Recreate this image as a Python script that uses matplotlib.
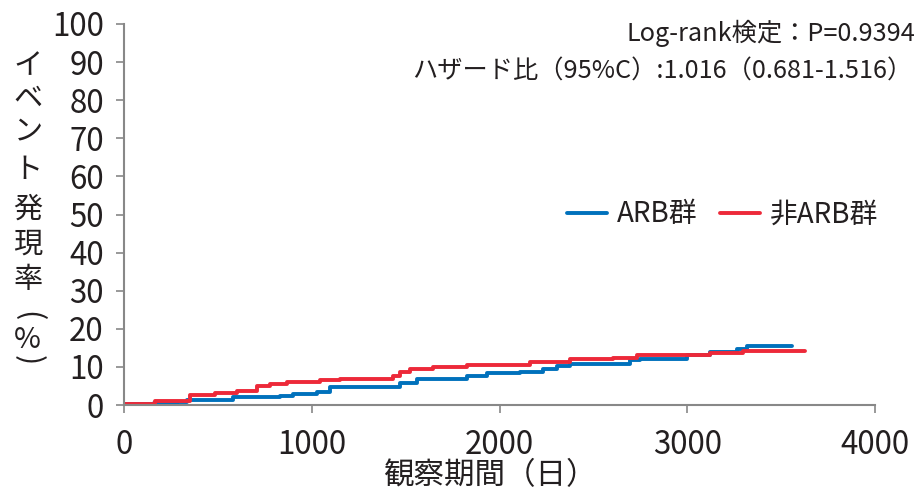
import matplotlib.pyplot as plt

plt.rcParams['font.family'] = ['Noto Sans CJK JP', 'DejaVu Sans']

# 観察期間（日）と累積イベント発現率（%）
arb_days = [0, 160, 282, 335, 580, 831, 900, 1028, 1097, 1380, 1470, 1560, 1826, 1933,
            2109, 2232, 2306, 2375, 2695, 2748, 2999, 3121, 3265, 3318, 3558]
arb_rate = [0.3, 0.6, 0.9, 1.3, 2.0, 2.4, 2.9, 3.4, 4.6, 4.6, 5.9, 6.7, 7.6, 8.3,
            8.7, 9.5, 10.2, 10.7, 11.8, 12.2, 13.1, 13.8, 14.6, 15.5, 15.5]

non_days = [0, 165, 350, 485, 600, 708, 778, 866, 1044, 1150, 1433, 1470, 1523, 1646,
            1826, 1933, 2162, 2375, 2605, 2732, 3121, 3297, 3627]
non_rate = [0.3, 1.0, 2.6, 3.1, 3.8, 5.0, 5.5, 6.1, 6.6, 6.9, 7.5, 8.7, 9.5, 9.9,
            10.5, 10.6, 11.2, 12.0, 12.4, 13.0, 13.6, 14.3, 14.3]

xticks = [0, 1000, 2000, 3000, 4000]
yticks = list(range(0, 101, 10))

txt = '#231F20'
fig = plt.figure(figsize=(9.24, 4.95), dpi=100)
ax = fig.add_axes([124 / 924, 1 - 405 / 495, (875 - 124) / 924, (405 - 24) / 495])

ax.plot(arb_days, arb_rate, drawstyle='steps-post', color='#0071BC', lw=2.8, label='ARB群',
        solid_capstyle='round')
ax.plot(non_days, non_rate, drawstyle='steps-post', color='#ED2939', lw=2.8, label='非ARB群',
        solid_capstyle='round')

ax.set_xlim(0, 4000)
ax.set_ylim(0, 100)
ax.set_xticks(xticks)
ax.set_yticks(yticks)
ax.tick_params(labelsize=22.5, colors=txt, length=6, width=1.2, color='#888888')
ax.tick_params(axis='y', pad=8.5)
ax.tick_params(axis='x', pad=11)
for s in ['top', 'right']:
    ax.spines[s].set_visible(False)
for s in ['left', 'bottom']:
    ax.spines[s].set_color('#888888')
    ax.spines[s].set_linewidth(1.5)

fig.text(490 / 924, 1 - 476 / 495, '観察期間（日）', fontsize=22, ha='center', va='center',
         color=txt)

# 縦書きの縦軸ラベル
ylab = ['イ', 'ベ', 'ン', 'ト', '発', '現', '率']
ypos = [66, 99, 131, 170, 210, 245, 280]
for ch, yp in zip(ylab, ypos):
    fig.text(28 / 924, 1 - yp / 495, ch, fontsize=21, ha='center', va='center', color=txt)
fig.text(28 / 924, 1 - 316 / 495, '(', fontsize=22, rotation=-90, ha='center', va='center',
         color=txt)
fig.text(27 / 924, 1 - 340 / 495, '%', fontsize=21, ha='center', va='center', color=txt)
fig.text(28 / 924, 1 - 360 / 495, ')', fontsize=22, rotation=-90, ha='center', va='center',
         color=txt)

fig.text(915 / 924, 1 - 33 / 495, 'Log-rank検定：P=0.9394', fontsize=18.2, ha='right',
         va='center', color=txt)
fig.text(912 / 924, 1 - 72 / 495, 'ハザード比（95%C）:1.016（0.681-1.516）', fontsize=18.2,
         ha='right', va='center', color=txt)

ax.legend(loc='center left', bbox_to_anchor=(0.59, 0.5), ncol=2, frameon=False, fontsize=20,
          handlelength=1.45, handletextpad=0.35, columnspacing=0.8, labelcolor=txt,
          borderpad=0, borderaxespad=0)

fig.savefig('out.png', dpi=100)
